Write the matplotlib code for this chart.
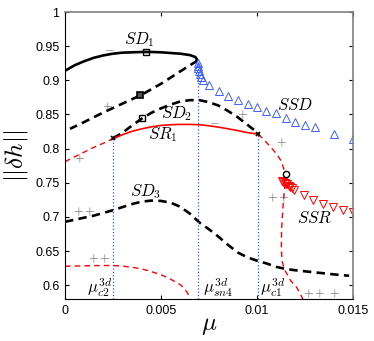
import matplotlib
matplotlib.use("Agg")
import matplotlib.pyplot as plt

plt.rcParams["font.family"] = ["Liberation Sans", "DejaVu Sans"]
plt.rcParams["mathtext.fontset"] = "cm"

# stable upper branch SD1 (solid) and its unstable fold-back (dashed)
sd1_x = [0, 0.0005, 0.001, 0.0015, 0.002, 0.0025, 0.003, 0.0035, 0.004, 0.0045,
         0.005, 0.0055, 0.006, 0.0065, 0.0068, 0.00688]
sd1_y = [0.914, 0.922, 0.928, 0.933, 0.9365, 0.939, 0.9405, 0.941, 0.9415, 0.9415,
         0.941, 0.940, 0.939, 0.937, 0.934, 0.930]
sd1u_x = [0.00688, 0.0068, 0.0065, 0.006, 0.0055, 0.005, 0.004, 0.003, 0.002, 0.001, 0.00026]
sd1u_y = [0.930, 0.927, 0.922, 0.913, 0.904, 0.895, 0.879, 0.866, 0.853, 0.839, 0.829]

sd2_x = [0.0025, 0.003, 0.0035, 0.004, 0.0045, 0.005, 0.0055, 0.006, 0.0065, 0.007,
         0.0075, 0.008, 0.0085, 0.009, 0.0095, 0.01, 0.0101]
sd2_y = [0.815, 0.8235, 0.834, 0.844, 0.8525, 0.859, 0.8645, 0.869, 0.871, 0.871,
         0.868, 0.863, 0.855, 0.846, 0.835, 0.824, 0.821]

sd3_x = [0, 0.0005, 0.001, 0.0015, 0.002, 0.0025, 0.003, 0.0035, 0.004, 0.0045, 0.005,
         0.0055, 0.006, 0.0065, 0.007, 0.0075, 0.008, 0.0085, 0.009, 0.0095, 0.01,
         0.0105, 0.011, 0.0115, 0.012, 0.013, 0.014, 0.0148]
sd3_y = [0.693, 0.696, 0.699, 0.702, 0.706, 0.710, 0.7145, 0.719, 0.7225, 0.724, 0.7235,
         0.721, 0.715, 0.705, 0.692, 0.682, 0.671, 0.659, 0.648, 0.641, 0.636,
         0.632, 0.627, 0.624, 0.622, 0.619, 0.616, 0.614]

# SR1 branch: unstable left part, stable middle, unstable S-shaped tail
sr1a_x = [0, 0.0005, 0.001, 0.0015, 0.002, 0.0025]
sr1a_y = [0.781, 0.788, 0.795, 0.802, 0.808, 0.8145]
sr1_x = [0.0025, 0.003, 0.0035, 0.004, 0.0045, 0.005, 0.0055, 0.006, 0.0065, 0.007,
         0.0075, 0.008, 0.0085, 0.009, 0.0095, 0.01, 0.01007]
sr1_y = [0.8145, 0.8205, 0.8255, 0.829, 0.832, 0.834, 0.835, 0.8355, 0.8355, 0.835,
         0.8335, 0.8315, 0.829, 0.8265, 0.8235, 0.8215, 0.821]
sr1b_x = [0.01007, 0.0104, 0.01085, 0.0111, 0.01128, 0.0114, 0.01146, 0.01145, 0.01138,
          0.01133, 0.01128, 0.01127, 0.0113, 0.01145, 0.01175, 0.01207, 0.01241]
sr1b_y = [0.821, 0.812, 0.798, 0.789, 0.781, 0.770, 0.755, 0.744, 0.725,
          0.705, 0.680, 0.655, 0.636, 0.622, 0.607, 0.597, 0.579]

low_x = [0, 0.001, 0.002, 0.0025, 0.003, 0.0035, 0.004, 0.0045, 0.005, 0.0055, 0.006,
         0.0062, 0.0064, 0.0065]
low_y = [0.628, 0.6285, 0.629, 0.629, 0.628, 0.6265, 0.624, 0.620, 0.6155, 0.609, 0.601,
         0.596, 0.588, 0.579]

ssd_x = [0.00694, 0.00694, 0.00694, 0.00697, 0.00703, 0.0071, 0.0072, 0.0075, 0.0080,
         0.00847, 0.0090, 0.00951, 0.00998, 0.01047, 0.01097, 0.0115, 0.01198, 0.0125,
         0.0130, 0.0140, 0.0150]
ssd_y = [0.925, 0.921, 0.918, 0.914, 0.909, 0.905, 0.900, 0.893, 0.885,
         0.877, 0.871, 0.865, 0.861, 0.855, 0.852, 0.845, 0.839, 0.835,
         0.831, 0.822, 0.8135]

ssr_x = [0.0113, 0.01137, 0.01144, 0.01151, 0.01158, 0.01166, 0.01174, 0.01183, 0.01195,
         0.01246, 0.01293, 0.01345, 0.01397, 0.01449, 0.01502]
ssr_y = [0.752, 0.751, 0.750, 0.749, 0.748, 0.746, 0.744, 0.742, 0.739,
         0.7326, 0.7253, 0.7194, 0.7144, 0.7096, 0.7071]

mu_crit = [0.0025, 0.00694, 0.01007]
mu_top = [0.815, 0.925, 0.821]
mu_names = [r"$\mu^{3d}_{c2}$", r"$\mu^{3d}_{sn4}$", r"$\mu^{3d}_{c1}$"]

branch_names = [r"$SD_1$", r"$SD_2$", r"$SR_1$", r"$SD_3$", r"$SSD$", r"$SSR$"]
branch_pos = [(0.0039, 0.9596), (0.0058, 0.8507), (0.0051, 0.820), (0.0042, 0.7378),
              (0.0120, 0.8644), (0.0130, 0.6985)]

signs = ["$-$", "$+$", "$+$", "$-$", "$+$", "$+$", "$++$", "$++$", "$++$", "$+++$"]
sign_pos = [(0.00229, 0.946), (0.00224, 0.861), (0.00078, 0.785), (0.00776, 0.839),
            (0.00925, 0.849), (0.01129, 0.8085), (0.00104, 0.707), (0.00177, 0.639),
            (0.0111, 0.728), (0.01337, 0.588)]

fig = plt.figure(figsize=(3.74, 3.41), dpi=100)
ax = fig.add_axes([0.1738, 0.1232, 0.770, 0.8416])

black_dash = (0, (3.2, 2.0))
red_dash = (0, (4.0, 3.0))

ax.plot(sd1_x, sd1_y, color="black", lw=1.9)
ax.plot(sd1u_x, sd1u_y, color="black", lw=1.9, ls=black_dash)
ax.plot(sd2_x, sd2_y, color="black", lw=1.9, ls=black_dash)
ax.plot(sd3_x, sd3_y, color="black", lw=1.9, ls=black_dash)
ax.plot(sr1a_x, sr1a_y, color="red", lw=1.0, ls=red_dash)
ax.plot(sr1_x, sr1_y, color="red", lw=1.2)
ax.plot(sr1b_x, sr1b_y, color="red", lw=1.0, ls=red_dash)
ax.plot(low_x, low_y, color="red", lw=1.0, ls=red_dash)

for x, top in zip(mu_crit, mu_top):
    ax.plot([x, x], [0.58, top], color="#3355ee", lw=0.9, ls=":")

ax.plot(ssd_x, ssd_y, ls="none", marker="^", ms=5.5, mfc="none", mec="#3f5fff", mew=0.7)
ax.plot(ssr_x, ssr_y, ls="none", marker="v", ms=5.5, mfc="none", mec="red", mew=0.7)

# bifurcation point markers
ax.plot([0.0042], [0.9415], ls="none", marker="s", ms=4, mfc="none", mec="black", mew=1.0)
ax.plot([0.0039], [0.878], ls="none", marker="s", ms=4, mfc="#555555", mec="black", mew=1.2)
ax.plot([0.0040], [0.8444], ls="none", marker="s", ms=4, mfc="none", mec="black", mew=1.0)
ax.plot([mu_crit[0], mu_crit[2]], [0.815, 0.821], ls="none", marker="x", ms=3,
        mec="black", mew=1.2)
ax.plot([0.01151], [0.7625], ls="none", marker="o", ms=4.5, mfc="white", mec="black", mew=1.0)

for name, (x, y) in zip(branch_names, branch_pos):
    ax.text(x, y, name, fontsize=12, ha="center", va="center")

for s, (x, y) in zip(signs, sign_pos):
    ax.text(x, y, s, fontsize=9, ha="center", va="center", color="#555555")

ax.text(0.00245, 0.597, mu_names[0], fontsize=12, ha="right", va="center")
ax.text(0.0072, 0.597, mu_names[1], fontsize=12, ha="left", va="center")
ax.text(0.01015, 0.597, mu_names[2], fontsize=12, ha="left", va="center")

ax.set_xlim(0, 0.015)
ax.set_ylim(0.58, 1.0)
ax.set_xticks([0, 0.005, 0.01, 0.015])
ax.set_xticklabels(["0", "0.005", "0.01", "0.015"])
ax.set_yticks([0.6, 0.65, 0.7, 0.75, 0.8, 0.85, 0.9, 0.95, 1.0])
ax.set_yticklabels(["0.6", "0.65", "0.7", "0.75", "0.8", "0.85", "0.9", "0.95", "1"])
ax.tick_params(direction="in", top=True, right=True, length=3, width=0.8,
               labelsize=9, pad=4)
for side in ["top", "right"]:
    ax.spines[side].set_color("#808080")
    ax.spines[side].set_linewidth(1.2)
for side in ["left", "bottom"]:
    ax.spines[side].set_linewidth(0.8)

ax.set_xlabel(r"$\mu$", fontsize=18)
ax.set_ylabel(r"$||\delta h||$", fontsize=18)
ax.xaxis.set_label_coords(0.5, -0.05)
ax.yaxis.set_label_coords(-0.12, 0.5)

fig.savefig("out.png", dpi=100)
